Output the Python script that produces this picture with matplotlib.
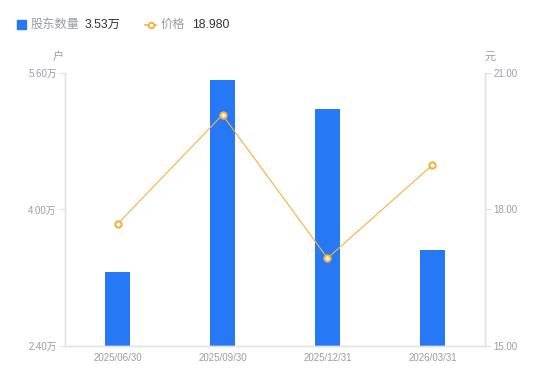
# Shareholder count (bars) and price (line) by reporting date
import matplotlib.pyplot as plt
import numpy as np

plt.rcParams['font.family'] = ['Liberation Sans', 'Noto Sans CJK SC', 'DejaVu Sans']

DATES = ["2025/06/30", "2025/09/30", "2025/12/31", "2026/03/31"]
HOLDERS = [3.27, 5.52, 5.18, 3.53]   # 万户
PRICE = [17.68, 20.08, 16.93, 18.98]  # 元

BAR_COLOR = "#2678F5"
LINE_COLOR = "#F5B13D"
TEXT_GRAY = "#9A9CA8"
AXIS_GRAY = "#E2E3E8"


def main():
    fig = plt.figure(figsize=(5.5, 3.81), dpi=100)
    ax = fig.add_axes([0.1182, 0.0919, 0.7636, 0.7165])
    ax2 = ax.twinx()

    x = np.arange(len(DATES))
    ax.bar(x, HOLDERS, width=0.24, color=BAR_COLOR, zorder=2)
    ax.set_xlim(-0.5, len(DATES) - 0.5)
    ax.set_ylim(2.40, 5.60)
    ax.set_yticks([2.40, 4.00, 5.60])
    ax.set_yticklabels([f"{v:.2f}万" for v in [2.40, 4.00, 5.60]])
    ax.set_xticks(x)
    ax.set_xticklabels(DATES)

    ax2.plot(x, PRICE, color=LINE_COLOR, lw=0.8, marker="o", ms=4.5,
             mfc="white", mec=LINE_COLOR, mew=1.5, zorder=3)
    ax2.set_ylim(15.0, 21.0)
    ax2.set_yticks([15.0, 18.0, 21.0])
    ax2.set_yticklabels([f"{v:.2f}" for v in [15.0, 18.0, 21.0]])

    for a in (ax, ax2):
        a.spines["top"].set_visible(False)
        for s in ("left", "right", "bottom"):
            a.spines[s].set_color(AXIS_GRAY)
            a.spines[s].set_linewidth(1.0)
        a.tick_params(axis="y", colors=AXIS_GRAY, labelcolor=TEXT_GRAY,
                      labelsize=7, length=4, width=0.8, pad=2)
        a.tick_params(axis="x", length=0, labelcolor=TEXT_GRAY,
                      labelsize=7, pad=5)

    fig.text(58 / 550, 1 - 57 / 381, "户", color=TEXT_GRAY, fontsize=8,
             ha="center", va="center")
    fig.text(490 / 550, 1 - 57 / 381, "元", color=TEXT_GRAY, fontsize=8,
             ha="center", va="center")

    # legend row
    ly = 1 - 24.5 / 381
    fig.patches.append(plt.Rectangle((17 / 550, ly - 4.5 / 381), 9 / 550, 9 / 381,
                                     transform=fig.transFigure, color=BAR_COLOR))
    fig.text(31 / 550, ly, "股东数量", color=TEXT_GRAY, fontsize=8.8, va="center")
    fig.text(85 / 550, ly, "3.53万", color="#333333", fontsize=8.8, va="center")
    fig.lines.append(plt.Line2D([145 / 550, 156 / 550], [ly, ly], transform=fig.transFigure,
                                color=LINE_COLOR, lw=1.2))
    fig.lines.append(plt.Line2D([150.5 / 550], [ly], transform=fig.transFigure,
                                marker="o", ms=4, mfc="white", mec=LINE_COLOR, mew=1.4))
    fig.text(161 / 550, ly, "价格", color=TEXT_GRAY, fontsize=8.8, va="center")
    fig.text(192 / 550, ly, "18.980", color="#333333", fontsize=8.8, va="center")

    fig.savefig("out.png", dpi=100)


if __name__ == "__main__":
    main()
